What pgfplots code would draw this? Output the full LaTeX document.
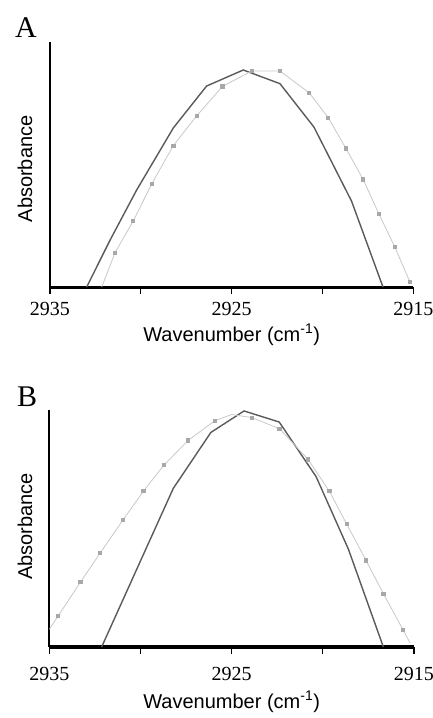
\documentclass[border=0pt]{standalone}
\usepackage{fontspec}
\setmainfont{Liberation Serif}
\newfontfamily\arial{Liberation Sans}
\usepackage{pgfplots}
\pgfplotsset{compat=1.18}

\definecolor{darkline}{HTML}{5A5A5A}
\definecolor{lightline}{HTML}{C8C8C8}
\definecolor{lightmark}{HTML}{A8A8A8}

% C-H stretching band, two spectra per panel
\pgfplotstableread{
wn      abs
2932.98 0
2931.70 0.215
2930.23 0.447
2928.21 0.733
2926.38 0.926
2924.36 1.000
2922.34 0.937
2920.47 0.737
2918.40 0.396
2916.67 0
}\darkA

\pgfplotstableread{
wn      abs
2932.15 0
2931.42 0.158
2930.42 0.304
2929.40 0.475
2928.21 0.652
2926.93 0.788
2925.51 0.924
2923.90 0.995
2922.34 0.995
2920.73 0.895
2919.68 0.780
2918.71 0.639
2917.76 0.496
2916.89 0.336
2916.01 0.183
2915.19 0.024
}\lightA

\pgfplotstableread{
wn      abs
2932.13 0
2930.02 0.361
2928.20 0.672
2926.14 0.909
2924.32 1.000
2922.39 0.953
2920.37 0.722
2918.60 0.415
2916.68 0
}\darkB

\pgfplotstableread{
wn      abs
2935.00 0.075
2934.52 0.131
2933.29 0.275
2932.22 0.397
2930.97 0.537
2929.84 0.660
2928.71 0.771
2927.39 0.875
2925.91 0.959
2925.00 0.985
2923.90 0.972
2922.38 0.925
2920.81 0.795
2919.64 0.660
2918.70 0.522
2917.63 0.367
2916.68 0.226
2915.60 0.073
2915.21 0.016
}\lightB

\pgfplotsset{
  spectrum/.style={
    scale only axis,
    x dir=reverse,
    xmin=2915, xmax=2935,
    ymin=0,
    axis x line=bottom, axis y line=left,
    axis line style={-, black},
    x axis line style={line width=3pt},
    y axis line style={line width=2pt},
    xtick={2915,2920,2925,2930,2935},
    xticklabels={2915,,2925,,2935},
    ytick=\empty,
    tick align=outside,
    major tick length=7pt,
    tick style={black, line width=1.2pt},
    xticklabel style={font=\fontsize{20}{24}\selectfont, anchor=base, yshift=-21pt},
    label style={font=\arial\fontsize{20}{24}\selectfont},
    xlabel={Wavenumber (cm\textsuperscript{-1})},
    ylabel={Absorbance},
    xlabel style={at={(axis description cs:0.5,0)}, anchor=base},
  },
  dark/.style={darkline, line width=1.4pt, mark=none},
  light/.style={lightline, line width=0.8pt, mark=square*, mark size=1.6pt,
    mark options={draw=lightmark, fill=lightmark}},
}

\begin{document}
\begin{tikzpicture}
\path[use as bounding box] (0,0) rectangle (433pt,-718pt);

\node[anchor=base west, font=\fontsize{30}{34}\selectfont, inner sep=0pt] at (15pt,-37pt) {A};
\node[anchor=base west, font=\fontsize{30}{34}\selectfont, inner sep=0pt] at (17pt,-406.7pt) {B};

\begin{axis}[spectrum,
  at={(50pt,-287pt)}, anchor=south west,
  width=363.3pt, height=245pt, ymax=1.129,
  xlabel style={yshift=-54pt},
  ylabel style={at={(axis description cs:-0.0688,0.482)}, anchor=center},
]
\addplot[dark] table[x=wn, y=abs] {\darkA};
\addplot[light, mark indices={2,3,4,5,6,7,8,9,10,11,12,13,14,15,16}] table[x=wn, y=abs] {\lightA};
\end{axis}

\begin{axis}[spectrum,
  at={(49.3pt,-647pt)}, anchor=south west,
  width=364.7pt, height=237pt, ymax=1.004,
  x axis line style={line width=3.5pt},
  xticklabel style={yshift=-5pt},
  xlabel style={yshift=-61pt},
  ylabel style={at={(axis description cs:-0.0666,0.508)}, anchor=center},
]
\addplot[dark] table[x=wn, y=abs] {\darkB};
\addplot[light, mark indices={2,3,4,5,6,7,8,9,11,12,13,14,15,16,17,18}] table[x=wn, y=abs] {\lightB};
\end{axis}
\end{tikzpicture}
\end{document}
